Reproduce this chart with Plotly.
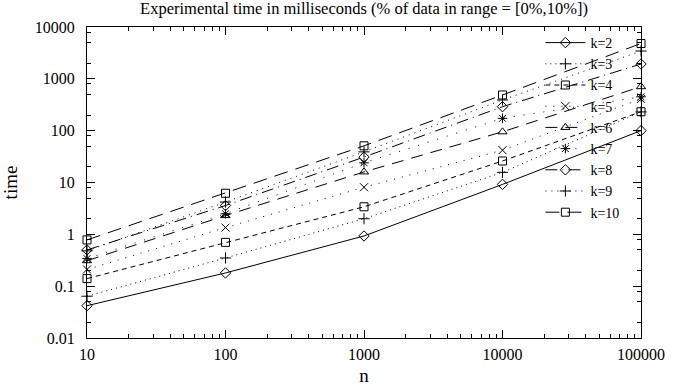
import plotly.graph_objects as go

n_values = [10, 100, 1000, 10000, 100000]

series_names = ["k=2", "k=3", "k=4", "k=5", "k=6", "k=7", "k=8", "k=9", "k=10"]
k2 = [0.042, 0.18, 0.93, 9.2, 100]
k3 = [0.064, 0.35, 2.0, 15.7, 230]
k4 = [0.14, 0.70, 3.4, 26, 232]
k5 = [0.21, 1.35, 8.1, 42, 410]
k6 = [0.31, 2.3, 16, 95, 706]
k7 = [0.34, 2.5, 24, 173, 450]
k8 = [0.50, 3.6, 31, 290, 1930]
k9 = [0.48, 4.2, 39, 391, 3440]
k10 = [0.78, 6.2, 51, 488, 4800]
series_values = [k2, k3, k4, k5, k6, k7, k8, k9, k10]

x_tick_labels = ["10", "100", "1000", "10000", "100000"]
y_tick_labels = ["0.01", "0.1", "1", "10", "100", "1000", "10000"]

symbols = ["diamond-open", "cross-thin-open", "square-open", "x-thin-open",
           "triangle-up-open", "asterisk-open", "diamond-open",
           "cross-thin-open", "square-open"]
dashes = ["solid", "1px,4px", "5px,4px", "1px,7px", "12px,8px", "1px,9px",
          "12px,5px,1px,5px", "1px,5px", "14px,8px"]

FONT = "Liberation Serif, Times New Roman, serif"

fig = go.Figure()
for name, vals, sym, dash in zip(series_names, series_values, symbols, dashes):
    fig.add_trace(go.Scatter(
        x=n_values, y=vals, name=name, mode="lines+markers",
        line=dict(color="black", width=1, dash=dash),
        marker=dict(symbol=sym, size=8, color="black",
                    line=dict(color="black", width=1)),
        cliponaxis=False,
    ))

x_major = [float(v) for v in x_tick_labels]
y_major = [float(v) for v in y_tick_labels]
x_minor = [m * 10 ** e for e in range(1, 5) for m in range(2, 10)]
y_minor = [m * 10 ** e for e in range(-2, 4) for m in (2, 5, 8)]

fig.update_layout(
    width=690, height=386,
    margin=dict(l=87, r=49, t=27, b=48, autoexpand=False),
    paper_bgcolor="white", plot_bgcolor="white",
    font=dict(family=FONT, size=16, color="black"),
    title=dict(text="Experimental time in milliseconds (% of data in range = [0%,10%])",
               x=0.5, xanchor="center", xref="paper",
               y=0.978, yanchor="middle", yref="container", automargin=False,
               font=dict(family=FONT, size=16.5, color="black")),
    showlegend=True,
    legend=dict(x=0.97, xanchor="right", y=1.0, yanchor="top",
                bgcolor="rgba(0,0,0,0)", borderwidth=0,
                font=dict(family=FONT, size=14, color="black"),
                itemwidth=40, tracegroupgap=0),
    xaxis=dict(type="log", range=[1, 5], automargin=False,
               title=dict(text="n", standoff=9),
               tickmode="array", tickvals=x_major, ticktext=x_tick_labels,
               ticks="inside", ticklen=8, tickwidth=1, tickcolor="black",
               showline=True, linecolor="black", linewidth=1, mirror="allticks",
               showgrid=False, zeroline=False, ticklabelstandoff=2,
               minor=dict(tickmode="array", tickvals=x_minor, ticks="inside",
                          ticklen=4, tickwidth=1, tickcolor="black", showgrid=False)),
    yaxis=dict(type="log", range=[-2, 4], automargin=False,
               title=dict(text="time", standoff=12),
               tickmode="array", tickvals=y_major, ticktext=y_tick_labels,
               ticks="inside", ticklen=8, tickwidth=1, tickcolor="black",
               showline=True, linecolor="black", linewidth=1, mirror="allticks",
               showgrid=False, zeroline=False, ticklabelstandoff=8,
               minor=dict(tickmode="array", tickvals=y_minor, ticks="inside",
                          ticklen=4, tickwidth=1, tickcolor="black", showgrid=False)),
)

fig.write_html("out.html", config={"displayModeBar": False},
               post_script="document.body.style.margin='0';document.body.style.padding='0';")
